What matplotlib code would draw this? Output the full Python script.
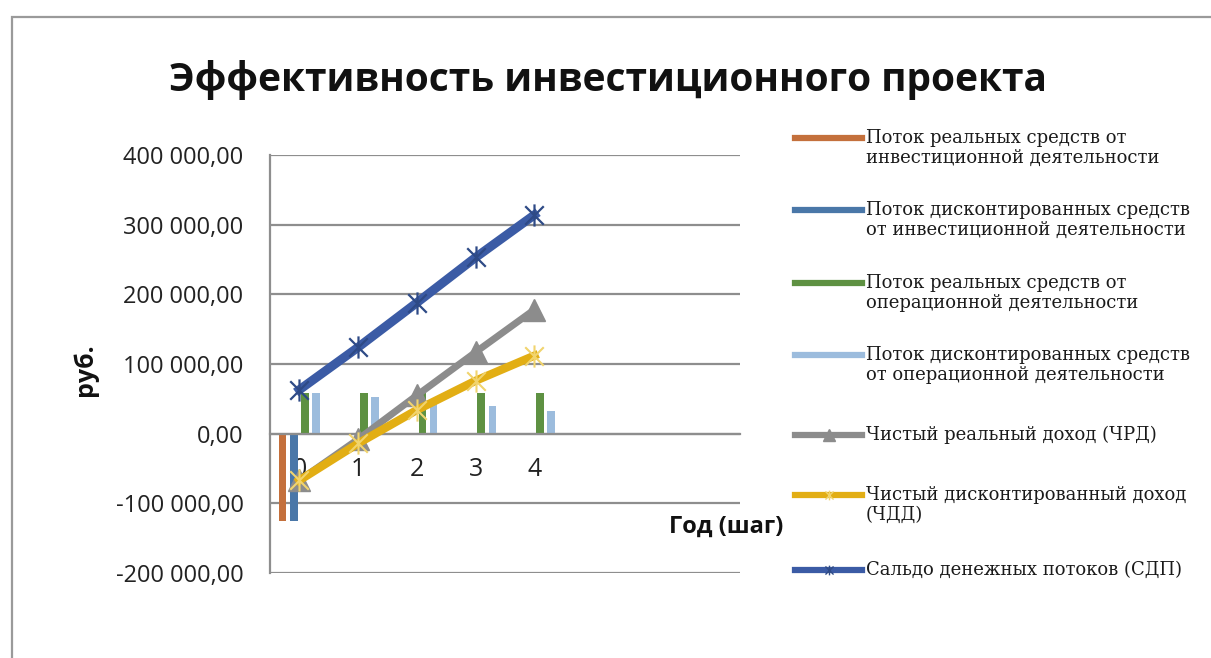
import matplotlib.pyplot as plt
from matplotlib.ticker import FuncFormatter
from matplotlib.lines import Line2D
from matplotlib.patches import Rectangle
from matplotlib.path import Path
import numpy as np

years = [0, 1, 2, 3, 4]
year_labels = ['0', '1', '2', '3', '4']

# bars (year 0 only for the investment flows)
invest_real = [-125000]
invest_disc = [-125000]
oper_real = [58000, 58000, 58000, 58000, 58000]
oper_disc = [58000, 52000, 46000, 40000, 33000]

# lines
chrd = [-67000, -8000, 55000, 117000, 178000]
chdd = [-67000, -14000, 34000, 76000, 112000]
sdp = [63000, 124000, 188000, 253000, 314000]

labels = [
    'Поток реальных средств от\nинвестиционной деятельности',
    'Поток дисконтированных средств\nот инвестиционной деятельности',
    'Поток реальных средств от\nоперационной деятельности',
    'Поток дисконтированных средств\nот операционной деятельности',
    'Чистый реальный доход (ЧРД)',
    'Чистый дисконтированный доход\n(ЧДД)',
    'Сальдо денежных потоков (СДП)',
]

c_orange = '#C4703C'
c_blue = '#4A77A8'
c_green = '#5E9142'
c_lblue = '#9CBCDD'
c_gray = '#8C8C8C'
c_yellow = '#E2AE14'
c_dblue = '#3B5BA5'
grid_c = '#8E8E8E'

# excel-like "star": an x crossed by a vertical bar
star = Path([(-1, -1), (1, 1), (-1, 1), (1, -1), (0, -1.2), (0, 1.2)],
            [Path.MOVETO, Path.LINETO, Path.MOVETO, Path.LINETO, Path.MOVETO, Path.LINETO])

W, H = 1211, 658
fig = plt.figure(figsize=(W / 100, H / 100), dpi=100)
ax = fig.add_axes([270 / W, 1 - 573 / H, 470 / W, 418 / H])

bw = 0.13
step = 0.19
x = np.array(years)
ax.bar(x[:1] - 1.5 * step, invest_real, width=bw, color=c_orange, zorder=2)
ax.bar(x[:1] - 0.5 * step, invest_disc, width=bw, color=c_blue, zorder=2)
ax.bar(x + 0.5 * step, oper_real, width=bw, color=c_green, zorder=2)
ax.bar(x + 1.5 * step, oper_disc, width=bw, color=c_lblue, zorder=2)

ax.plot(x, chrd, color=c_gray, lw=5, marker='^', ms=16, zorder=3)
ax.plot(x, chdd, color=c_yellow, lw=6, marker=star, ms=16, mew=1.5,
        mec='#F1D46E', zorder=4)
ax.plot(x, sdp, color=c_dblue, lw=6.5, marker=star, ms=16, mew=1.6,
        mec='#2E4A86', zorder=5)

ax.set_xlim(-0.5, 7.5)
ax.set_ylim(-200000, 400000)
ax.set_yticks(np.arange(-200000, 400001, 100000))
ax.set_xticks(years)
ax.set_xticklabels(year_labels)

ax.yaxis.set_major_formatter(FuncFormatter(
    lambda v, _: f'{v:,.2f}'.replace(',', ' ').replace('.', ',')))

ax.grid(axis='y', color=grid_c, lw=1.6, zorder=1)
ax.set_axisbelow(True)
for s in ['top', 'right']:
    ax.spines[s].set_visible(False)
ax.spines['left'].set_color(grid_c)
ax.spines['left'].set_linewidth(1.6)
ax.spines['bottom'].set_position(('data', 0))
ax.spines['bottom'].set_color(grid_c)
ax.spines['bottom'].set_linewidth(1.6)
ax.tick_params(axis='y', length=0, pad=19, labelsize=17, labelcolor='#222222')
ax.tick_params(axis='x', length=0, pad=17, labelsize=18, labelcolor='#222222')
for t in ax.get_xticklabels() + ax.get_yticklabels():
    t.set_fontfamily('Open Sans')

fig.text(608 / W, 1 - 80 / H, 'Эффективность инвестиционного проекта',
         ha='center', va='center', fontsize=28, fontweight='bold',
         family='Open Sans', color='#111111')
fig.text(85 / W, 1 - 370 / H, 'руб.', rotation=90, ha='center', va='center',
         fontsize=18, fontweight='bold', family='Open Sans', color='#111111')
fig.text(783 / W, 1 - 527 / H, 'Год (шаг)', ha='right', va='center',
         fontsize=17, fontweight='bold', family='Open Sans', color='#111111')

# legend, one slot per series; marker only in the middle of the handle
handles = [
    dict(color=c_orange),
    dict(color=c_blue),
    dict(color=c_green),
    dict(color=c_lblue),
    dict(color=c_gray, marker='^', ms=8),
    dict(color=c_yellow, marker=star, ms=7, mec='#F1D46E'),
    dict(color=c_dblue, marker=star, ms=7, mec='#2E4A86'),
]
rows = [138, 210, 283, 355, 435, 495, 570]
for lab, h, r in zip(labels, handles, rows):
    y = 1 - r / H
    fig.add_artist(Line2D([795 / W, 828.5 / W, 862 / W], [y, y, y], lw=4.5,
                          markevery=[1], **h))
    fig.text(866 / W, y + 9 / H, lab, ha='left', va='top', fontsize=13,
             family='DejaVu Serif', color='#1a1a1a', linespacing=1.15)

# chart area frame
fig.add_artist(Rectangle((12 / W, -0.1), 1.2, 1 - 17 / H + 0.1, fill=False,
                         edgecolor='#9A9A9A', lw=1.6, transform=fig.transFigure))

fig.savefig('out.png', dpi=100)
